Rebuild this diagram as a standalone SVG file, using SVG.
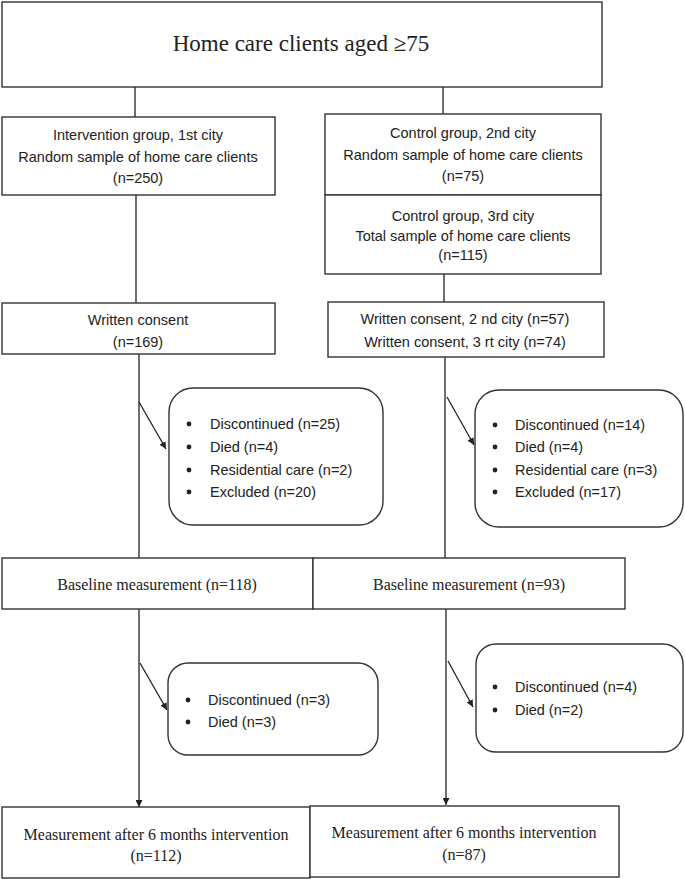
<svg xmlns="http://www.w3.org/2000/svg" width="685" height="879" viewBox="0 0 685 879">
<style>
.b{fill:#fff;stroke:#333;stroke-width:1.4}
.c{fill:none;stroke:#222;stroke-width:1.3}
.s{font-family:"Liberation Sans",Arial,sans-serif;font-size:14.5px;fill:#222}
.r{font-family:"Liberation Serif","Times New Roman",serif;font-size:16px;fill:#222}
.m{text-anchor:middle}
</style>
<defs>
<marker id="ah" viewBox="0 0 10 10" refX="10" refY="5" markerWidth="7" markerHeight="7" orient="auto" markerUnits="userSpaceOnUse">
<path d="M0,0 L10,5 L0,10 z" fill="#222"/>
</marker>
</defs>
<rect width="685" height="879" fill="#fff"/>
<g id="connectors">
<line class="c" x1="135" y1="87" x2="135" y2="117"/>
<line class="c" x1="443" y1="87" x2="443" y2="114"/>
<line class="c" x1="136" y1="195" x2="136" y2="303"/>
<line class="c" x1="444" y1="274" x2="444" y2="302"/>
<line class="c" x1="139" y1="354" x2="139" y2="558"/>
<line class="c" x1="445" y1="357" x2="445" y2="558"/>
<line class="c" x1="139" y1="402" x2="166" y2="449" marker-end="url(#ah)"/>
<line class="c" x1="447" y1="397" x2="474" y2="445" marker-end="url(#ah)"/>
<line class="c" x1="139" y1="609" x2="139" y2="807" marker-end="url(#ah)"/>
<line class="c" x1="446" y1="609" x2="446" y2="805" marker-end="url(#ah)"/>
<line class="c" x1="140" y1="663" x2="167" y2="710" marker-end="url(#ah)"/>
<line class="c" x1="448" y1="661" x2="473" y2="707" marker-end="url(#ah)"/>
</g>
<g id="top">
<rect class="b" x="2" y="2" width="600" height="85"/>
<text class="r m" x="301" y="51" style="font-size:23px">Home care clients aged ≥75</text>
</g>
<g id="intervention">
<rect class="b" x="2" y="117" width="273" height="78"/>
<text class="s m" x="138" y="140">Intervention group, 1st city</text>
<text class="s m" x="138" y="162">Random sample of home care clients</text>
<text class="s m" x="138" y="183">(n=250)</text>
</g>
<g id="control2">
<rect class="b" x="325" y="114" width="276" height="81"/>
<text class="s m" x="463" y="138">Control group, 2nd city</text>
<text class="s m" x="463" y="160">Random sample of home care clients</text>
<text class="s m" x="463" y="181">(n=75)</text>
</g>
<g id="control3">
<rect class="b" x="325" y="195" width="276" height="79"/>
<text class="s m" x="463" y="221">Control group, 3rd city</text>
<text class="s m" x="463" y="241">Total sample of home care clients</text>
<text class="s m" x="463" y="260">(n=115)</text>
</g>
<g id="consent1">
<rect class="b" x="2" y="303" width="273" height="51"/>
<text class="s m" x="138" y="325">Written consent</text>
<text class="s m" x="138" y="347">(n=169)</text>
</g>
<g id="consent2">
<rect class="b" x="328" y="302" width="276" height="55"/>
<text class="s m" x="465" y="324">Written consent, 2 nd city (n=57)</text>
<text class="s m" x="465" y="347">Written consent, 3 rt city (n=74)</text>
</g>
<g id="dropout1">
<rect class="b" x="169" y="388" width="214" height="137" rx="24"/>
<circle cx="189" cy="424" r="2.4" fill="#222"/>
<circle cx="189" cy="447" r="2.4" fill="#222"/>
<circle cx="189" cy="470" r="2.4" fill="#222"/>
<circle cx="189" cy="492" r="2.4" fill="#222"/>
<text class="s" x="210" y="429">Discontinued (n=25)</text>
<text class="s" x="210" y="452">Died (n=4)</text>
<text class="s" x="210" y="475">Residential care (n=2)</text>
<text class="s" x="210" y="497">Excluded (n=20)</text>
</g>
<g id="dropout2">
<rect class="b" x="475" y="390" width="208" height="137" rx="24"/>
<circle cx="495" cy="425" r="2.4" fill="#222"/>
<circle cx="495" cy="447" r="2.4" fill="#222"/>
<circle cx="495" cy="470" r="2.4" fill="#222"/>
<circle cx="495" cy="492" r="2.4" fill="#222"/>
<text class="s" x="515" y="430">Discontinued (n=14)</text>
<text class="s" x="515" y="452">Died (n=4)</text>
<text class="s" x="515" y="475">Residential care (n=3)</text>
<text class="s" x="515" y="497">Excluded (n=17)</text>
</g>
<g id="baseline1">
<rect class="b" x="2" y="558" width="311" height="51"/>
<text class="r m" x="157" y="590">Baseline measurement (n=118)</text>
</g>
<g id="baseline2">
<rect class="b" x="313" y="558" width="312" height="51"/>
<text class="r m" x="469" y="590">Baseline measurement (n=93)</text>
</g>
<g id="dropout3">
<rect class="b" x="168" y="663" width="210" height="92" rx="20"/>
<circle cx="188" cy="700" r="2.4" fill="#222"/>
<circle cx="188" cy="722" r="2.4" fill="#222"/>
<text class="s" x="208" y="705">Discontinued (n=3)</text>
<text class="s" x="208" y="727">Died (n=3)</text>
</g>
<g id="dropout4">
<rect class="b" x="476" y="644" width="207" height="108" rx="20"/>
<circle cx="495" cy="687" r="2.4" fill="#222"/>
<circle cx="495" cy="710" r="2.4" fill="#222"/>
<text class="s" x="515" y="692">Discontinued (n=4)</text>
<text class="s" x="515" y="715">Died (n=2)</text>
</g>
<g id="followup1">
<rect class="b" x="2" y="807" width="308" height="71"/>
<text class="r m" x="156" y="840">Measurement after 6 months intervention</text>
<text class="r m" x="156" y="861">(n=112)</text>
</g>
<g id="followup2">
<rect class="b" x="310" y="806" width="309" height="71"/>
<text class="r m" x="464" y="838">Measurement after 6 months intervention</text>
<text class="r m" x="464" y="860">(n=87)</text>
</g>
</svg>
